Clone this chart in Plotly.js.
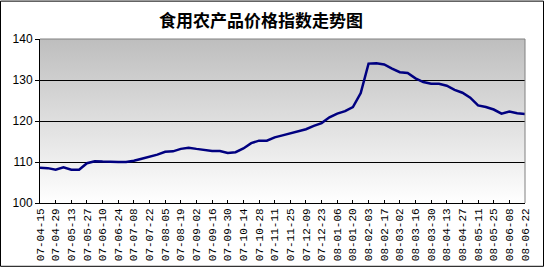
<!DOCTYPE html>
<html>
<head>
<meta charset="utf-8">
<script src="https://cdn.plot.ly/plotly-3.0.1.min.js"></script>
<style>body{margin:0;padding:0;background:#fff}#chart{width:544px;height:267px}</style>
</head>
<body>
<div id="chart"></div>
<script>
const chartTitle = "食用农产品价格指数走势图";
const dates = [
"2007-04-15","2007-04-22","2007-04-29","2007-05-06","2007-05-13","2007-05-20","2007-05-27","2007-06-03",
"2007-06-10","2007-06-17","2007-06-24","2007-07-01","2007-07-08","2007-07-15","2007-07-22","2007-07-29",
"2007-08-05","2007-08-12","2007-08-19","2007-08-26","2007-09-02","2007-09-09","2007-09-16","2007-09-23",
"2007-09-30","2007-10-07","2007-10-14","2007-10-21","2007-10-28","2007-11-04","2007-11-11","2007-11-18",
"2007-11-25","2007-12-02","2007-12-09","2007-12-16","2007-12-23","2007-12-30","2008-01-06","2008-01-13",
"2008-01-20","2008-01-27","2008-02-03","2008-02-10","2008-02-17","2008-02-24","2008-03-02","2008-03-09",
"2008-03-16","2008-03-23","2008-03-30","2008-04-06","2008-04-13","2008-04-20","2008-04-27","2008-05-04",
"2008-05-11","2008-05-18","2008-05-25","2008-06-01","2008-06-08","2008-06-15","2008-06-22"
];
const priceIndex = [
108.6,108.5,108.1,108.7,108.1,108.1,109.7,110.2,
110.1,110.0,110.0,110.0,110.3,110.8,111.3,111.8,
112.5,112.6,113.2,113.5,113.2,112.9,112.7,112.7,
112.2,112.4,113.3,114.6,115.2,115.2,116.0,116.5,
117.0,117.4,118.0,118.8,119.5,120.9,121.8,122.4,
123.4,126.8,134.0,134.1,133.8,132.8,131.9,131.7,
130.4,129.5,129.1,129.1,128.6,127.6,126.9,125.7,
123.8,123.4,122.8,121.8,122.3,121.9,121.7
];
const tickLabels = [
"07-04-15","07-04-29","07-05-13","07-05-27","07-06-10","07-06-24","07-07-08","07-07-22",
"07-08-05","07-08-19","07-09-02","07-09-16","07-09-30","07-10-14","07-10-28","07-11-11",
"07-11-25","07-12-09","07-12-23","08-01-06","08-01-20","08-02-03","08-02-17","08-03-02",
"08-03-16","08-03-30","08-04-13","08-04-27","08-05-11","08-05-25","08-06-08","08-06-22"
];
const yTicks = [100,110,120,130,140];
const tickVals = tickLabels.map(t => "20" + t);

const W = 544, H = 267, L = 40, R = 19, T = 38.5, B = 64;
const pw = W - L - R, ph = H - T - B;
const px = v => (v - L) / pw;
const py = v => (H - B - v) / ph;

const gradSvg = '<svg xmlns="http://www.w3.org/2000/svg" width="100" height="100" preserveAspectRatio="none">' +
 '<defs><linearGradient id="g" x1="0" y1="0" x2="0" y2="1"><stop offset="0" stop-color="#bebebe"/><stop offset="1" stop-color="#ffffff"/></linearGradient></defs>' +
 '<rect width="100" height="100" fill="url(#g)"/></svg>';
const gradUri = "data:image/svg+xml;base64," + btoa(gradSvg);

const trace = {
  x: dates, y: priceIndex, type: "scatter", mode: "lines",
  line: {color: "#000080", width: 2.5}, hoverinfo: "skip"
};

const layout = {
  width: W, height: H,
  margin: {l: L, r: R, t: T, b: B, pad: 0},
  paper_bgcolor: "#ffffff", plot_bgcolor: "rgba(0,0,0,0)",
  showlegend: false,
  title: {text: "<b>" + chartTitle + "</b>", x: 0.48, xref: "container", xanchor: "center",
          y: 1 - 21 / H, yref: "container", yanchor: "middle",
          font: {family: "Noto Sans CJK SC", size: 17, color: "#000"}},
  xaxis: {
    type: "date", range: [tickVals[0], tickVals[tickVals.length - 1]],
    tickmode: "array", tickvals: tickVals, ticktext: tickLabels, tickangle: -90,
    ticks: "inside", ticklen: 3, tickcolor: "#000", tickwidth: 1,
    showline: true, linecolor: "#000", linewidth: 1, showgrid: false, zeroline: false,
    tickfont: {family: "Liberation Mono", size: 11, color: "#000"}, fixedrange: true
  },
  yaxis: {
    range: [100, 140], tickmode: "array", tickvals: yTicks, ticktext: yTicks.map(String),
    ticks: "outside", ticklen: 4, tickcolor: "#000", tickwidth: 1,
    showline: true, linecolor: "#000", linewidth: 1,
    showgrid: true, gridcolor: "#000", gridwidth: 1, zeroline: false,
    tickfont: {family: "Liberation Sans", size: 12, color: "#000"}, fixedrange: true
  },
  images: [{source: gradUri, xref: "paper", yref: "paper", x: 0, y: 1, sizex: 1, sizey: 1,
            sizing: "stretch", xanchor: "left", yanchor: "top", layer: "below"}],
  shapes: [
    {type: "line", xref: "paper", yref: "paper", x0: 0, x1: 1, y0: 1, y1: 1, line: {color: "#808080", width: 1}, layer: "above"},
    {type: "line", xref: "paper", yref: "paper", x0: 1, x1: 1, y0: 0, y1: 1, line: {color: "#808080", width: 1}, layer: "above"},
    {type: "rect", xref: "paper", yref: "paper", x0: px(0.5), x1: px(W - 0.5), y0: py(H - 0.5), y1: py(0.5),
     line: {color: "#000", width: 1}, fillcolor: "rgba(0,0,0,0)", layer: "above"}
  ]
};

Plotly.newPlot("chart", [trace], layout, {staticPlot: true, displayModeBar: false});
</script>
</body>
</html>
